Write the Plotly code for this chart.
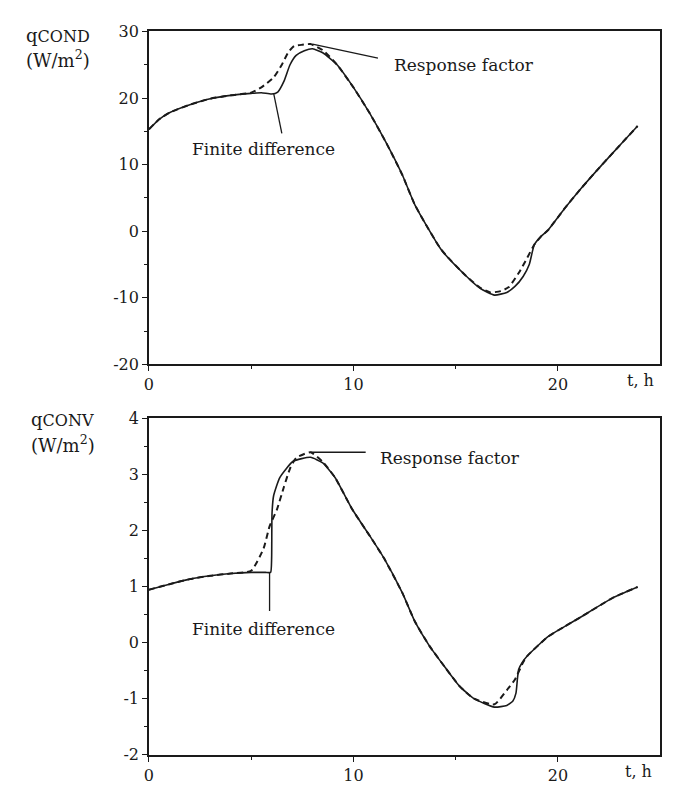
import plotly.graph_objects as go

# ---- data: conduction heat flux (top) ----
t_cond_fd = [0, 0.5, 1, 2, 3, 4, 5, 5.5, 6.0, 6.3, 6.6, 6.9, 7.2, 7.6, 8.0, 8.5, 9.2, 10.0, 10.8, 11.6, 12.4,
             13.0, 14.3, 15.5, 16.2, 16.9, 17.5, 17.9, 18.3, 18.6, 18.85, 19.2, 19.5, 20.3, 21.1, 21.9, 22.7, 23.3, 23.9]
q_cond_fd = [15.3, 16.8, 17.8, 19.0, 19.9, 20.4, 20.7, 20.8, 20.6, 20.9, 22.5, 25.0, 26.4, 27.1, 27.4, 26.8, 25.0, 21.6,
             17.7, 13.3, 8.4, 4.0, -2.8, -6.7, -8.6, -9.6, -9.2, -8.3, -6.8, -5.0, -2.0, -0.7, 0.1, 3.3, 6.3, 9.1, 11.8, 13.8, 15.8]
t_cond_rf = [0, 0.5, 1, 2, 3, 4, 5, 5.5, 6.1, 6.5, 6.8, 7.1, 7.5, 7.9, 8.5, 9.2, 10.0, 10.8, 11.6, 12.4,
             13.0, 14.3, 15.5, 16.2, 16.7, 17.2, 17.6, 18.1, 18.5, 18.85, 19.2, 19.5, 20.3, 21.1, 21.9, 22.7, 23.3, 23.9]
q_cond_rf = [15.3, 16.8, 17.8, 19.0, 19.9, 20.4, 20.8, 21.6, 23.1, 25.0, 26.8, 27.8, 28.0, 28.1, 27.2, 25.0, 21.6,
             17.7, 13.3, 8.4, 4.0, -2.8, -6.7, -8.5, -9.2, -9.0, -8.4, -6.2, -4.0, -2.0, -0.7, 0.1, 3.3, 6.3, 9.1, 11.8, 13.8, 15.8]

# ---- data: convective heat flux (bottom) ----
t_conv_fd = [0, 1, 2, 3, 4, 5, 5.7, 5.95, 6.0, 6.02, 6.1, 6.4, 7.05, 7.9, 8.5, 9.1, 9.95, 10.8, 11.5, 12.4, 13.0, 13.7,
             14.5, 15.2, 15.9, 16.9, 17.5, 17.8, 17.95, 18.02, 18.08, 18.25, 18.5, 19.5, 20.3, 21.1, 22.7, 23.9]
q_conv_fd = [0.94, 1.04, 1.13, 1.19, 1.23, 1.25, 1.25, 1.25, 1.5, 2.3, 2.62, 2.94, 3.23, 3.30, 3.20, 2.94, 2.37, 1.9, 1.5,
             0.88, 0.38, -0.05, -0.45, -0.78, -1.0, -1.15, -1.12, -1.04, -0.9, -0.65, -0.48, -0.36, -0.24, 0.10, 0.28, 0.45,
             0.8, 0.99]
t_conv_rf = [0, 1, 2, 3, 4, 5.0, 5.6, 5.9, 6.25, 6.6, 6.9, 7.2, 7.9, 8.5, 9.1, 9.95, 10.8, 11.5, 12.4, 13.0, 13.7, 14.5,
             15.2, 15.9, 16.9, 17.5, 17.9, 18.3, 18.5, 19.5, 20.3, 21.1, 22.7, 23.9]
q_conv_rf = [0.94, 1.04, 1.13, 1.19, 1.23, 1.28, 1.67, 2.07, 2.36, 2.77, 3.1, 3.29, 3.39, 3.22, 2.94, 2.37, 1.9, 1.5, 0.88,
             0.38, -0.05, -0.45, -0.78, -1.0, -1.1, -0.85, -0.66, -0.35, -0.24, 0.10, 0.28, 0.45, 0.8, 0.99]

x_ticks = [0, 10, 20]
x_tick_text = ["0", "10", "20"]
y1_ticks = [-20, -10, 0, 10, 20, 30]
y1_tick_text = ["-20", "-10", "0", "10", "20", "30"]
y2_ticks = [-2, -1, 0, 1, 2, 3, 4]
y2_tick_text = ["-2", "-1", "0", "1", "2", "3", "4"]

FONT = "DejaVu Serif"
INK = "#1a1a1a"
W, H = 677, 798

solid = dict(color=INK, width=1.6, shape="spline", smoothing=0.5)
dashed = dict(color=INK, width=2, dash="6px,4px", shape="spline", smoothing=0.5)

fig = go.Figure()
fig.add_trace(go.Scatter(x=t_cond_fd, y=q_cond_fd, mode="lines", line=solid,
                         xaxis="x", yaxis="y", showlegend=False))
fig.add_trace(go.Scatter(x=t_cond_rf, y=q_cond_rf, mode="lines", line=dashed,
                         xaxis="x", yaxis="y", showlegend=False))
fig.add_trace(go.Scatter(x=t_conv_fd, y=q_conv_fd, mode="lines", line=solid,
                         xaxis="x2", yaxis="y2", showlegend=False))
fig.add_trace(go.Scatter(x=t_conv_rf, y=q_conv_rf, mode="lines", line=dashed,
                         xaxis="x2", yaxis="y2", showlegend=False))

xdom = [145 / W, 660 / W]
ax_common = dict(showline=True, linecolor=INK, linewidth=1.5, mirror=True, showgrid=False, zeroline=False,
                 ticks="outside", ticklen=5, tickcolor=INK, tickwidth=1.2,
                 tickfont=dict(family=FONT, size=16, color=INK))

fig.update_layout(
    width=W, height=H, margin=dict(l=0, r=0, t=0, b=0),
    paper_bgcolor="white", plot_bgcolor="white",
    xaxis=dict(domain=xdom, range=[0, 25], anchor="y", tickvals=x_ticks, ticktext=x_tick_text,
               minor=dict(tickvals=[5, 15], ticklen=3, tickcolor=INK, ticks="outside"), **ax_common),
    yaxis=dict(domain=[1 - 364 / H, 1 - 23 / H], range=[-20, 30], anchor="x", tickvals=y1_ticks,
               ticktext=y1_tick_text,
               minor=dict(dtick=5, ticklen=3, tickcolor=INK, ticks="outside"), **ax_common),
    xaxis2=dict(domain=xdom, range=[0, 25], anchor="y2", tickvals=x_ticks, ticktext=x_tick_text,
                minor=dict(tickvals=[5, 15], ticklen=3, tickcolor=INK, ticks="outside"), **ax_common),
    yaxis2=dict(domain=[1 - 764 / H, 1 - 419 / H], range=[-2, 4], anchor="x2", tickvals=y2_ticks,
                ticktext=y2_tick_text,
                minor=dict(dtick=0.5, ticklen=3, tickcolor=INK, ticks="outside"), **ax_common),
)

tfont = dict(family=FONT, size=17, color=INK)
titlefont = dict(family=FONT, size=18, color=INK)
ann = []
# axis titles
ann.append(dict(xref="paper", yref="paper", x=19 / W, y=1 - 27 / H, xanchor="left", yanchor="middle",
                text="q<span style='font-size:16px'>COND</span>", showarrow=False, font=titlefont))
ann.append(dict(xref="paper", yref="paper", x=19 / W, y=1 - 51 / H, xanchor="left", yanchor="middle",
                text="(W/m<sup>2</sup>)", showarrow=False, font=titlefont))
ann.append(dict(xref="paper", yref="paper", x=24 / W, y=1 - 421 / H, xanchor="left", yanchor="middle",
                text="q<span style='font-size:16px'>CONV</span>", showarrow=False, font=titlefont))
ann.append(dict(xref="paper", yref="paper", x=24 / W, y=1 - 446 / H, xanchor="left", yanchor="middle",
                text="(W/m<sup>2</sup>)", showarrow=False, font=titlefont))
# t, h labels
ann.append(dict(xref="paper", yref="paper", x=640 / W, y=1 - 381 / H, xanchor="center", yanchor="middle",
                text="t, h", showarrow=False, font=dict(family=FONT, size=16, color=INK)))
ann.append(dict(xref="paper", yref="paper", x=638 / W, y=1 - 781 / H, xanchor="center", yanchor="middle",
                text="t, h", showarrow=False, font=dict(family=FONT, size=16, color=INK)))
# curve labels
ann.append(dict(xref="x", yref="y", x=11.9, y=25.0, xanchor="left", yanchor="middle",
                text="Response factor", showarrow=False, font=tfont))
ann.append(dict(xref="x", yref="y", x=5.6, y=12.4, xanchor="center", yanchor="middle",
                text="Finite difference", showarrow=False, font=tfont))
ann.append(dict(xref="x2", yref="y2", x=11.2, y=3.29, xanchor="left", yanchor="middle",
                text="Response factor", showarrow=False, font=tfont))
ann.append(dict(xref="x2", yref="y2", x=5.6, y=0.24, xanchor="center", yanchor="middle",
                text="Finite difference", showarrow=False, font=tfont))
fig.update_layout(annotations=ann)

leader = dict(color=INK, width=1.3)
fig.add_shape(type="line", xref="x", yref="y", x0=8.0, y0=28.1, x1=11.2, y1=26.0, line=leader)
fig.add_shape(type="line", xref="x", yref="y", x0=6.1, y0=20.7, x1=6.5, y1=14.7, line=leader)
fig.add_shape(type="line", xref="x2", yref="y2", x0=7.9, y0=3.39, x1=10.6, y1=3.39, line=leader)
fig.add_shape(type="line", xref="x2", yref="y2", x0=5.9, y0=1.25, x1=5.9, y1=0.56, line=leader)

fig.write_html("out.html")
